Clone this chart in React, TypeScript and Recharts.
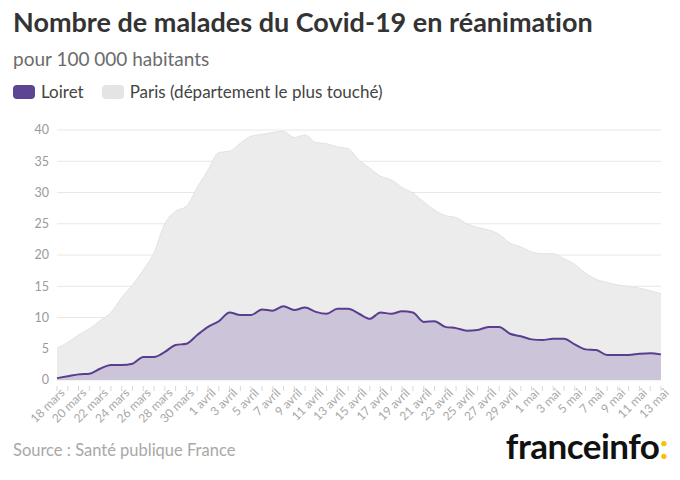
import React from "react";
import { Area, CartesianGrid, ComposedChart, XAxis, YAxis } from "recharts";

const days = [
  "18 mars", "19 mars", "20 mars", "21 mars", "22 mars", "23 mars", "24 mars", "25 mars", "26 mars", "27 mars",
  "28 mars", "29 mars", "30 mars", "31 mars", "1 avril", "2 avril", "3 avril", "4 avril", "5 avril", "6 avril",
  "7 avril", "8 avril", "9 avril", "10 avril", "11 avril", "12 avril", "13 avril", "14 avril", "15 avril", "16 avril",
  "17 avril", "18 avril", "19 avril", "20 avril", "21 avril", "22 avril", "23 avril", "24 avril", "25 avril", "26 avril",
  "27 avril", "28 avril", "29 avril", "30 avril", "1 mai", "2 mai", "3 mai", "4 mai", "5 mai", "6 mai",
  "7 mai", "8 mai", "9 mai", "10 mai", "11 mai", "12 mai", "13 mai",
];

const loiret = [
  0.3, 0.6, 0.9, 1.0, 1.8, 2.4, 2.4, 2.6, 3.7, 3.7,
  4.5, 5.6, 5.8, 7.2, 8.5, 9.4, 10.8, 10.4, 10.4, 11.3,
  11.1, 11.8, 11.2, 11.6, 10.9, 10.6, 11.4, 11.4, 10.6, 9.8,
  10.8, 10.6, 11.0, 10.8, 9.3, 9.4, 8.5, 8.3, 7.9, 8.0,
  8.5, 8.5, 7.4, 7.0, 6.5, 6.4, 6.6, 6.6, 5.7, 4.9,
  4.8, 4.0, 4.0, 4.0, 4.2, 4.3, 4.1,
];

const paris = [
  5.1, 6.0, 7.2, 8.2, 9.5, 10.8, 13.2, 15.2, 17.6, 20.4,
  25.0, 27.0, 27.8, 30.8, 33.6, 36.4, 36.6, 37.9, 39.0, 39.3,
  39.6, 39.8, 38.8, 39.2, 38.0, 37.8, 37.3, 37.0, 35.2, 33.9,
  32.6, 32.0, 30.8, 29.9, 28.5, 27.2, 26.3, 26.0, 25.0, 24.4,
  24.0, 23.3, 21.9, 21.3, 20.5, 20.2, 20.2, 19.4, 18.5, 17.1,
  16.1, 15.6, 15.2, 15.0, 14.7, 14.3, 13.8,
];

const yTicks = [0, 5, 10, 15, 20, 25, 30, 35, 40];

const data = days.map((d, i) => ({ date: d, loiret: loiret[i], paris: paris[i] }));

const FONT = "Lato, 'Open Sans', sans-serif";

// every day gets a small tick, only every other day gets a label
function DayTick(props: any) {
  const { x, y, payload, index } = props;
  return (
    <g transform={`translate(${x},${y})`}>
      <line x1={0} y1={-2} x2={0} y2={3} stroke="#d8d8d8" />
      {index % 2 === 0 && (
        <text
          x={0}
          y={0}
          dx={2}
          dy={10}
          textAnchor="end"
          fill="#a8a8a8"
          fontSize={12}
          fontFamily={FONT}
          transform="rotate(-45)"
        >
          {payload.value}
        </text>
      )}
    </g>
  );
}

export default function App() {
  return (
    <div style={{ position: "absolute", left: 0, top: 0, width: 680, height: 480, background: "#fff", fontFamily: FONT, fontVariantLigatures: "none", overflow: "hidden" }}>
      <div style={{ position: "absolute", left: 13, top: 5, fontSize: 27, fontWeight: 700, color: "#333" }}>
        Nombre de malades du Covid-19 en réanimation
      </div>
      <div style={{ position: "absolute", left: 13, top: 47, fontSize: 19, color: "#6b6b6b" }}>
        pour 100 000 habitants
      </div>
      <div style={{ position: "absolute", left: 13, top: 81, fontSize: 17, color: "#444", display: "flex", alignItems: "center" }}>
        <span style={{ display: "inline-block", width: 22, height: 14, borderRadius: 4, background: "#5c4593", marginRight: 6 }} />
        <span style={{ marginRight: 18 }}>Loiret</span>
        <span style={{ display: "inline-block", width: 22, height: 14, borderRadius: 4, background: "#e4e4e4", marginRight: 6 }} />
        <span>Paris (département le plus touché)</span>
      </div>

      <div style={{ position: "absolute", left: 0, top: 110 }}>
        <ComposedChart width={680} height={320} data={data} margin={{ top: 20, right: 19, left: 0, bottom: 0 }}>
          <CartesianGrid horizontal vertical={false} stroke="#e8e8e8" />
          <XAxis
            dataKey="date"
            interval={0}
            axisLine={false}
            tickLine={false}
            height={50}
            tick={<DayTick />}
          />
          <YAxis
            domain={[0, 40]}
            ticks={yTicks}
            width={57}
            axisLine={false}
            tickLine={false}
            tick={{ fill: "#9a9a9a", fontSize: 12.5, fontFamily: FONT }}
          />
          <Area
            type="monotone"
            dataKey="paris"
            stroke="#e2e2e2"
            strokeWidth={1}
            fill="#ececec"
            fillOpacity={1}
            isAnimationActive={false}
          />
          <Area
            type="monotone"
            dataKey="loiret"
            stroke="#5a3e8e"
            strokeWidth={2}
            fill="#ccc4d9"
            fillOpacity={1}
            isAnimationActive={false}
          />
        </ComposedChart>
      </div>

      <div style={{ position: "absolute", left: 13, top: 440, fontSize: 16.5, color: "#a8a8a8" }}>
        Source : Santé publique France
      </div>
      <div style={{ position: "absolute", right: 12, top: 424, fontSize: 35, fontWeight: 700, color: "#111", letterSpacing: -0.5 }}>
        franceinfo<span style={{ color: "#f5c200" }}>:</span>
      </div>
    </div>
  );
}
